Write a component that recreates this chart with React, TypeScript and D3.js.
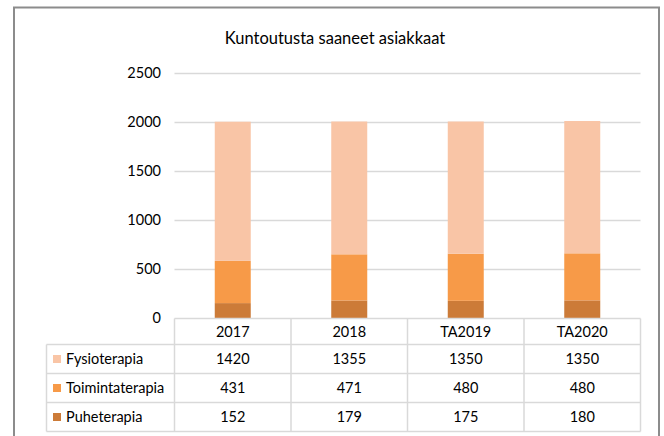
import React from "react";
import * as d3 from "d3";

const title = "Kuntoutusta saaneet asiakkaat";
const categories = ["2017", "2018", "TA2019", "TA2020"];
const seriesNames = ["Fysioterapia", "Toimintaterapia", "Puheterapia"];
const fysioterapia = [1420, 1355, 1350, 1350];
const toimintaterapia = [431, 471, 480, 480];
const puheterapia = [152, 179, 175, 180];
const yTicks = [0, 500, 1000, 1500, 2000, 2500];
const colors = ["#F9C5A6", "#F79A48", "#CC7B38"];

export default function App() {
  const W = 664, H = 436;
  const left = 174.5, right = 640.5, top = 73, bottom = 318;
  const x = d3.scaleBand().domain(categories).range([left, right]).paddingInner(0).paddingOuter(0);
  const y = d3.scaleLinear().domain([0, 2500]).range([bottom, top]);
  const barW = 36;
  const font = "Lato, 'Open Sans', sans-serif";

  const rows = categories.map((c, i) => ({
    cat: c,
    Puheterapia: puheterapia[i],
    Toimintaterapia: toimintaterapia[i],
    Fysioterapia: fysioterapia[i],
  }));
  const stackOrder = ["Puheterapia", "Toimintaterapia", "Fysioterapia"];
  const stacked = d3.stack<any>().keys(stackOrder)(rows);
  const colorOf = (k: string) => colors[seriesNames.indexOf(k)];
  const tableData = [fysioterapia, toimintaterapia, puheterapia];

  const tableLeft = 46.5;
  const rowLines = [318.5, 344.5, 373.5, 402.5, 431.5];
  const gridCol = "#d9d9d9";

  return (
    <svg width={W} height={H} style={{ position: "absolute", left: 0, top: 0, background: "#fff" }}>
      <rect x={14} y={7.5} width={645} height={440} fill="#fff" stroke="#8c8c8c" strokeWidth={2} />
      <text x={335} y={44} textAnchor="middle" fontFamily={font} fontSize={16.5} fill="#000">{title}</text>
      {yTicks.map((t) => (
        <g key={t}>
          {t > 0 && <line x1={left} x2={right} y1={Math.round(y(t)) + 0.5} y2={Math.round(y(t)) + 0.5} stroke={gridCol} strokeWidth={1.5} />}
          <text x={161} y={y(t) + 5} textAnchor="end" fontFamily={font} fontSize={14.5} fill="#000">{t}</text>
        </g>
      ))}
      {stacked.map((s) => (
        <g key={s.key}>
          {s.map((d: any, i: number) => (
            <rect key={i} x={(x(categories[i]) as number) + x.bandwidth() / 2 - barW / 2} y={y(d[1])} width={barW} height={y(d[0]) - y(d[1])} fill={colorOf(s.key)} />
          ))}
        </g>
      ))}
      {/* table */}
      <g stroke={gridCol} strokeWidth={1.5} fill="none">
        <line x1={left} x2={right} y1={rowLines[0]} y2={rowLines[0]} />
        {rowLines.slice(1).map((ry) => (
          <line key={ry} x1={tableLeft} x2={right} y1={ry} y2={ry} />
        ))}
        <line x1={tableLeft} x2={tableLeft} y1={rowLines[1]} y2={rowLines[4]} />
        {[...categories.map((c) => x(c) as number), right].map((cx, i) => (
          <line key={i} x1={cx} x2={cx} y1={rowLines[0]} y2={rowLines[4]} />
        ))}
      </g>
      {categories.map((c) => (
        <text key={c} x={(x(c) as number) + x.bandwidth() / 2} y={(rowLines[0] + rowLines[1]) / 2 + 5} textAnchor="middle" fontFamily={font} fontSize={14.5} fill="#000">{c}</text>
      ))}
      {seriesNames.map((name, r) => {
        const cy = (rowLines[r + 1] + rowLines[r + 2]) / 2;
        return (
          <g key={name}>
            <rect x={53} y={cy - 4} width={8} height={8} fill={colors[r]} />
            <text x={66} y={cy + 5} fontFamily={font} fontSize={14.5} fill="#000">{name}</text>
            {tableData[r].map((v, i) => (
              <text key={i} x={(x(categories[i]) as number) + x.bandwidth() / 2} y={cy + 5} textAnchor="middle" fontFamily={font} fontSize={14.5} fill="#000">{v}</text>
            ))}
          </g>
        );
      })}
    </svg>
  );
}
